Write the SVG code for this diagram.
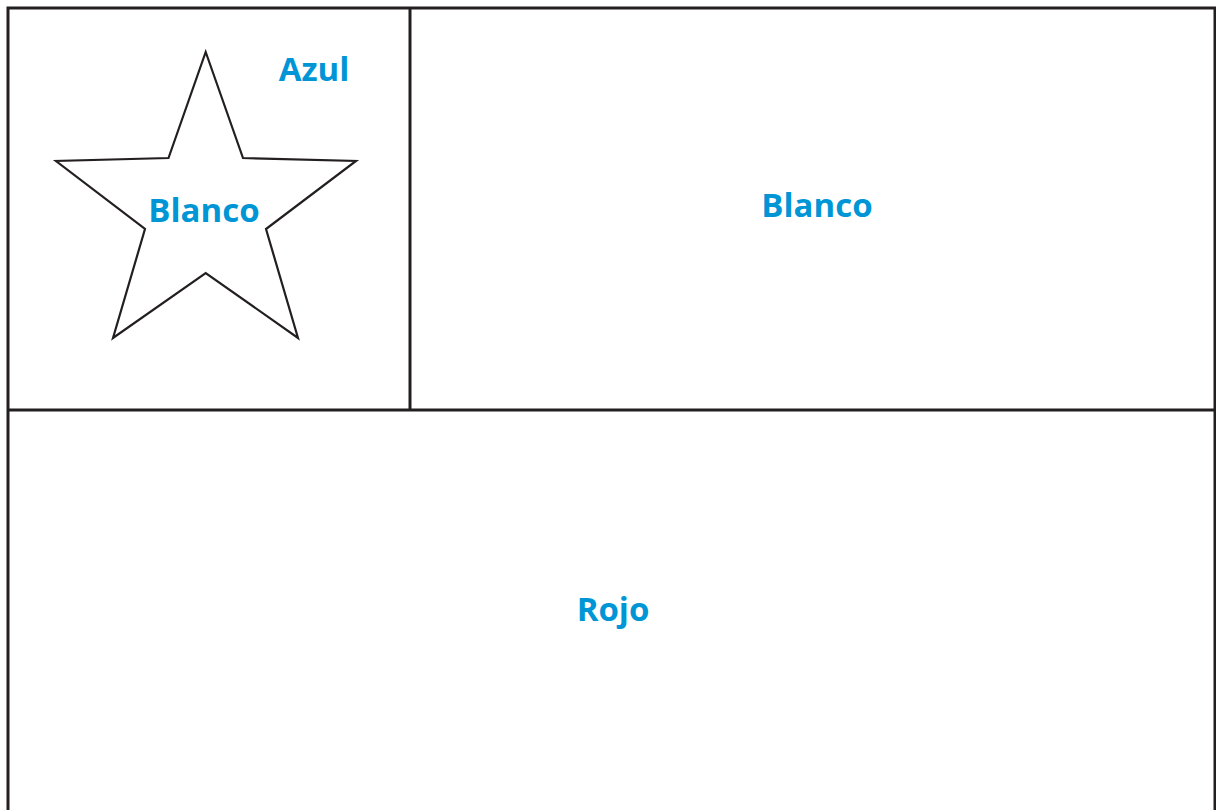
<svg xmlns="http://www.w3.org/2000/svg" width="1216" height="810" viewBox="0 0 1216 810">
<style>
.ln{stroke:#231f20;stroke-width:3;fill:none}
.lbl{font-family:"Open Sans","Liberation Sans",sans-serif;font-weight:700;font-size:33px;fill:#0096d6;text-anchor:middle}
.star{stroke:#231f20;stroke-width:2.2;fill:#fff;stroke-linejoin:miter}
</style>
<rect width="1216" height="810" fill="#fff"/>
<g id="connectors">
<path class="ln" d="M8,812 V8 H1215 V812"/>
<line class="ln" x1="410" y1="8" x2="410" y2="410"/>
<line class="ln" x1="8" y1="410" x2="1216" y2="410"/>
</g>
<g id="canton">
<polygon class="star" points="205.7,52 243,158 356,161 266,229 298,338 205.7,273 113,338 145,229 56,161 168.5,158"/>
<text class="lbl" x="204" y="222">Blanco</text>
<text class="lbl" x="314" y="81">Azul</text>
</g>
<g id="white-band">
<text class="lbl" x="817" y="217">Blanco</text>
</g>
<g id="red-band">
<text class="lbl" x="613" y="621">Rojo</text>
</g>
</svg>
